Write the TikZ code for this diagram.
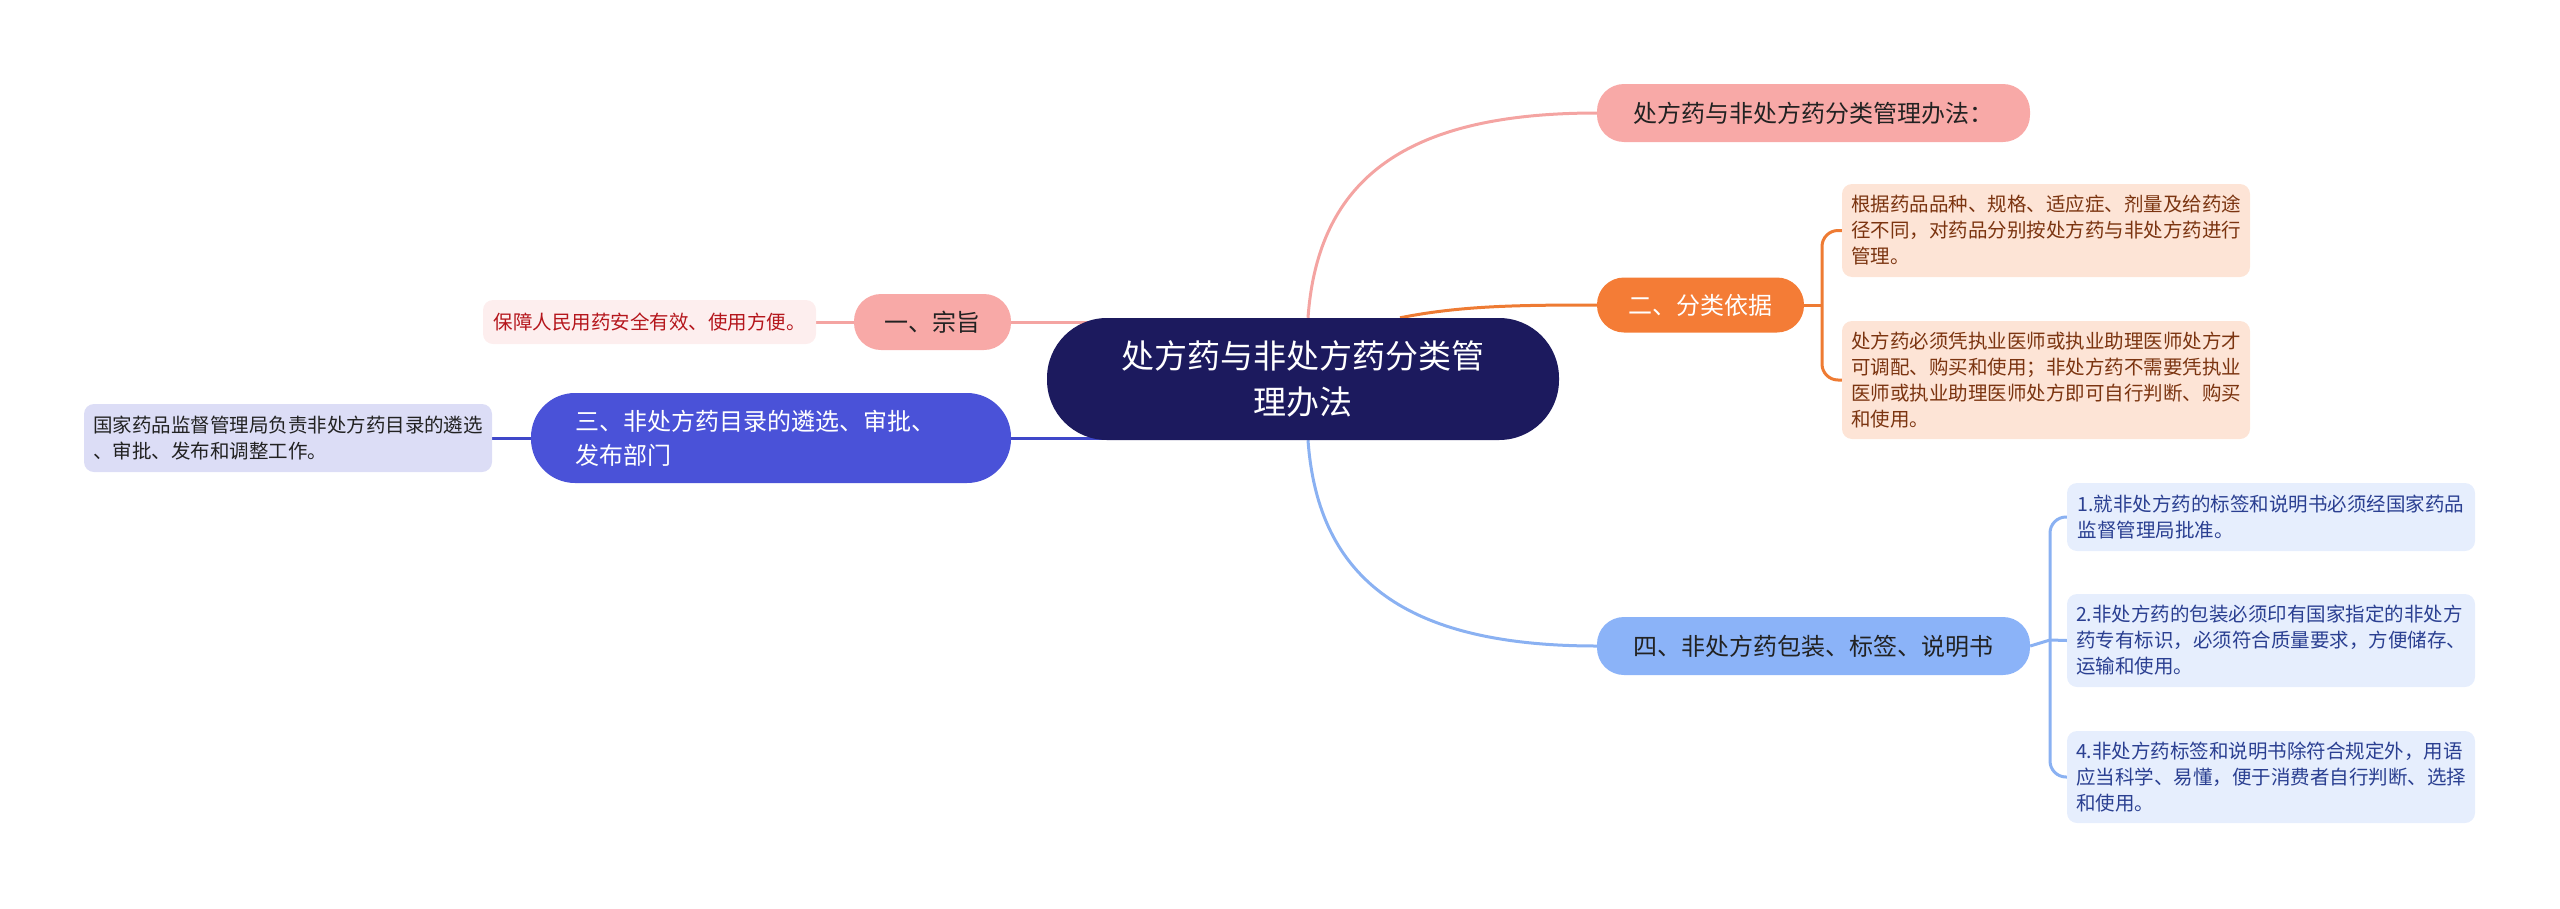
\documentclass[tikz,border=0pt]{standalone}
\usepackage{fontspec}
\newfontfamily\cjk{Noto Sans CJK SC}
\usetikzlibrary{calc,backgrounds}
\definecolor{cmain}{HTML}{1C1A5E}
\definecolor{cpink}{HTML}{F8A9A7}
\definecolor{lnpink}{HTML}{F4A4A2}
\definecolor{corange}{HTML}{F47C36}
\definecolor{lnorange}{HTML}{EE7B33}
\definecolor{lorange}{HTML}{FDE4D6}
\definecolor{torange}{HTML}{7B3410}
\definecolor{lpink}{HTML}{FDEEEE}
\definecolor{tred}{HTML}{B5161C}
\definecolor{cindigo}{HTML}{4A52D8}
\definecolor{lnindigo}{HTML}{3F47C9}
\definecolor{lindigo}{HTML}{DCDDF6}
\definecolor{cblue}{HTML}{8BB3F8}
\definecolor{lnblue}{HTML}{8AB1F2}
\definecolor{lblue}{HTML}{E6EEFD}
\definecolor{tblue}{HTML}{2A3F91}
\definecolor{tdark}{HTML}{222222}
\begin{document}
\begin{tikzpicture}[x=1pt,y=-1pt,
  every node/.style={inner sep=0pt},
  mainbox/.style={rounded corners=60pt, fill=cmain, text=white, minimum width=512pt, minimum height=122pt, align=center, font=\cjk\fontsize{33}{46}\selectfont},
  topic/.style={rounded corners=27pt, minimum height=56pt, font=\cjk\fontsize{24}{34}\selectfont},
  leaf/.style={rounded corners=10pt, align=left, font=\cjk\fontsize{19.5}{26}\selectfont},
  conn/.style={line width=3pt}
]
\useasboundingbox (0,0) rectangle (2560,908);

\node[mainbox] (c) at (1303,379) {处方药与非处方药分类管\\理办法};

\node[topic, fill=cpink, text=tdark, minimum width=433pt, minimum height=58pt] (t0) at (1813.5,113) {处方药与非处方药分类管理办法：};

\node[topic, fill=corange, text=white, minimum width=207pt, minimum height=55pt] (t2) at (1700.5,305) {二、分类依据};
\node[leaf, fill=lorange, text=torange, minimum width=408pt, minimum height=93pt] (o1) at (2046,230.5) {根据药品品种、规格、适应症、剂量及给药途\\径不同，对药品分别按处方药与非处方药进行\\管理。};
\node[leaf, fill=lorange, text=torange, minimum width=408pt, minimum height=118pt] (o2) at (2046,380) {处方药必须凭执业医师或执业助理医师处方才\\可调配、购买和使用；非处方药不需要凭执业\\医师或执业助理医师处方即可自行判断、购买\\和使用。};

\node[topic, fill=cpink, text=tdark, minimum width=157pt, minimum height=56pt] (t1) at (932.5,322) {一、宗旨};
\node[leaf, fill=lpink, text=tred, minimum width=333pt, minimum height=44pt] (p1) at (649.5,322) {保障人民用药安全有效、使用方便。};

\node[topic, fill=cindigo, text=white, minimum width=480pt, minimum height=90pt, rounded corners=44pt, text width=392pt, align=left] (t3) at (771,438) {三、非处方药目录的遴选、审批、\\发布部门};
\node[leaf, fill=lindigo, text=tdark, minimum width=408pt, minimum height=68pt] (i1) at (288,438) {国家药品监督管理局负责非处方药目录的遴选\\、审批、发布和调整工作。};

\node[topic, fill=cblue, text=tdark, minimum width=433pt, minimum height=58pt] (t4) at (1813.5,646) {四、非处方药包装、标签、说明书};
\node[leaf, fill=lblue, text=tblue, minimum width=408pt, minimum height=68pt] (b1) at (2271,517) {1.就非处方药的标签和说明书必须经国家药品\\监督管理局批准。};
\node[leaf, fill=lblue, text=tblue, minimum width=408pt, minimum height=93pt] (b2) at (2271,640.5) {2.非处方药的包装必须印有国家指定的非处方\\药专有标识，必须符合质量要求，方便储存、\\运输和使用。};
\node[leaf, fill=lblue, text=tblue, minimum width=408pt, minimum height=92pt] (b4) at (2271,777) {4.非处方药标签和说明书除符合规定外，用语\\应当科学、易懂，便于消费者自行判断、选择\\和使用。};

\coordinate (ob) at (1822,305);
\coordinate (bb) at (2050,640);

\begin{pgfonlayer}{background}
\draw[conn, lnpink] ($(c.north)+(5,0)$) .. controls +(10,-140) and +(-190,0) .. (t0.west);
\draw[conn, lnorange] ($(c.north)+(97,0)$) .. controls +(60,-12) and +(-80,0) .. (t2.west);
\draw[conn, lnblue] ($(c.south)+(5,0)$) .. controls +(10,140) and +(-190,0) .. (t4.west);
\draw[conn, lnpink] (t1.east) -- (t1.east -| c.center);
\draw[conn, lnindigo] (t3.east) -- (t3.east -| c.center);
\draw[conn, lnpink] (t1.west) -- (p1.east);
\draw[conn, lnindigo] (t3.west) -- (i1.east);
\draw[conn, lnorange] (t2.east) -- (ob);
\draw[conn, lnorange, rounded corners=16pt] (o1.west) -| (ob) |- (o2.west);
\draw[conn, lnblue] (t4.east) -- (bb);
\draw[conn, lnblue, rounded corners=16pt] (b1.west) -| (bb) |- (b4.west);
\draw[conn, lnblue] (bb) -- (b2.west);
\end{pgfonlayer}
\end{tikzpicture}
\end{document}
